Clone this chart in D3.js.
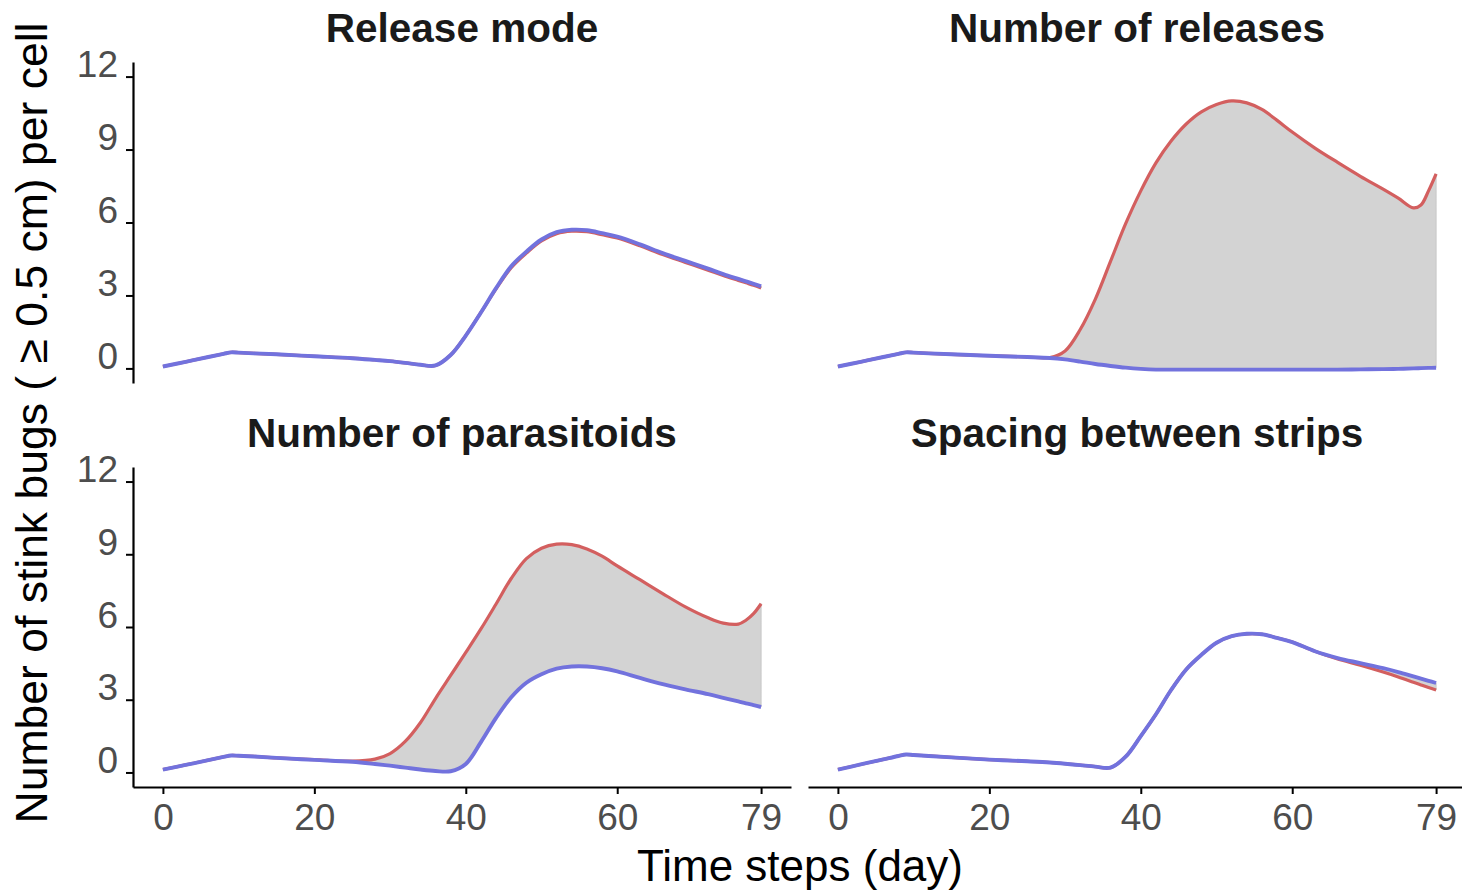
<!DOCTYPE html>
<html>
<head>
<meta charset="utf-8">
<script src="https://cdn.jsdelivr.net/npm/d3@7"></script>
<style>
  html, body { margin: 0; padding: 0; background: #ffffff; }
  svg { display: block; }
  text { font-family: "Liberation Sans", Arial, Helvetica, sans-serif; }
</style>
</head>
<body>
<svg id="chart" width="1462" height="890"></svg>
<script>
// ---------------- data ----------------
const days = [0,3,6,8,9,10,12,15,20,25,28,30,32,34,36,38,40,42,44,46,48,50,52,54,56,58,60,63,66,69,72,74,76,77,78,79];

const releaseModeRed  = [0.08,0.27,0.47,0.6,0.66,0.65,0.62,0.58,0.5,0.42,0.35,0.3,0.23,0.15,0.12,0.55,1.35,2.3,3.27,4.14,4.74,5.24,5.54,5.64,5.62,5.5,5.36,5.04,4.68,4.36,4.04,3.82,3.62,3.52,3.42,3.31];
const releaseModeBlue = [0.08,0.27,0.47,0.6,0.66,0.65,0.62,0.58,0.5,0.42,0.35,0.3,0.23,0.15,0.12,0.55,1.35,2.3,3.3,4.2,4.8,5.3,5.6,5.7,5.68,5.56,5.42,5.1,4.74,4.42,4.1,3.88,3.68,3.58,3.48,3.37];

const releasesRed  = [0.08,0.27,0.47,0.6,0.66,0.65,0.62,0.58,0.52,0.47,0.45,0.72,1.6,2.85,4.4,5.95,7.3,8.45,9.35,10.05,10.55,10.85,11.0,10.92,10.65,10.2,9.72,9.06,8.47,7.9,7.37,7.0,6.6,6.72,7.3,8.0];
const releasesBlue = [0.08,0.27,0.47,0.6,0.66,0.65,0.62,0.58,0.52,0.47,0.43,0.37,0.28,0.18,0.1,0.03,-0.02,-0.05,-0.05,-0.05,-0.05,-0.05,-0.05,-0.05,-0.05,-0.05,-0.05,-0.05,-0.05,-0.04,-0.03,-0.02,0.0,0.01,0.02,0.03];

const parasitoidsRed  = [0.12,0.31,0.51,0.64,0.7,0.69,0.66,0.6,0.53,0.47,0.55,0.78,1.28,2.05,3.05,4.0,4.95,5.92,6.95,8.0,8.82,9.25,9.42,9.4,9.22,8.92,8.52,7.95,7.38,6.83,6.38,6.16,6.12,6.28,6.55,6.96];
const parasitoidsBlue = [0.12,0.31,0.51,0.64,0.7,0.69,0.66,0.6,0.52,0.44,0.35,0.28,0.2,0.12,0.06,0.05,0.35,1.25,2.25,3.1,3.7,4.05,4.28,4.37,4.37,4.3,4.17,3.9,3.64,3.43,3.23,3.08,2.93,2.85,2.78,2.7];

const spacingRed  = [0.12,0.33,0.54,0.68,0.74,0.72,0.68,0.62,0.53,0.46,0.41,0.36,0.3,0.24,0.2,0.65,1.5,2.4,3.4,4.25,4.85,5.35,5.62,5.72,5.7,5.55,5.38,5.0,4.68,4.42,4.14,3.94,3.72,3.61,3.5,3.4];
const spacingBlue = [0.12,0.33,0.54,0.68,0.74,0.72,0.68,0.62,0.53,0.46,0.41,0.36,0.3,0.24,0.2,0.65,1.5,2.4,3.4,4.25,4.85,5.35,5.62,5.72,5.7,5.55,5.38,5.0,4.72,4.51,4.3,4.14,3.96,3.87,3.78,3.69];

const panelTitles = ["Release mode", "Number of releases", "Number of parasitoids", "Spacing between strips"];
const yTicks = [0, 3, 6, 9, 12];
const xTicks = [0, 20, 40, 60, 79];
const xTitle = "Time steps (day)";
const yTitle = "Number of stink bugs ( \u2265 0.5 cm) per cell";

// ---------------- layout ----------------
const svg = d3.select("#chart");
const RED = "#d35f5f", BLUE = "#7272dd", RIBBON = "#d3d3d3";
const cols = [[133, 791], [808, 1466]];
const rows = [[62, 383], [467, 787]];
const curve = d3.curveCatmullRom.alpha(0.5);

const panels = [
  { title: panelTitles[0], red: releaseModeRed,  blue: releaseModeBlue,  c: 0, r: 0, yAxis: true,  xAxis: false },
  { title: panelTitles[1], red: releasesRed,     blue: releasesBlue,     c: 1, r: 0, yAxis: false, xAxis: false },
  { title: panelTitles[2], red: parasitoidsRed,  blue: parasitoidsBlue,  c: 0, r: 1, yAxis: true,  xAxis: true },
  { title: panelTitles[3], red: spacingRed,      blue: spacingBlue,      c: 1, r: 1, yAxis: false, xAxis: true }
];

panels.forEach(p => {
  const [x0, x1] = cols[p.c];
  const [y0, y1] = rows[p.r];
  const x = d3.scaleLinear().domain([-3.95, 82.95]).range([x0, x1]);
  const y = d3.scaleLinear().domain([-0.6, 12.6]).range([y1, y0]);

  const rowsData = days.map((d, i) => ({ day: d, red: p.red[i], blue: p.blue[i] }));
  const g = svg.append("g");

  g.append("path")
    .datum(rowsData)
    .attr("fill", RIBBON)
    .attr("stroke", "#c8c8c8").attr("stroke-width", 1)
    .attr("d", d3.area().curve(curve)
      .x(d => x(d.day)).y0(d => y(d.blue)).y1(d => y(d.red)));

  g.append("path")
    .datum(rowsData)
    .attr("fill", "none").attr("stroke", RED).attr("stroke-width", 3.2)
    .attr("stroke-linejoin", "round")
    .attr("d", d3.line().curve(curve).x(d => x(d.day)).y(d => y(d.red)));

  g.append("path")
    .datum(rowsData)
    .attr("fill", "none").attr("stroke", BLUE).attr("stroke-width", 3.9)
    .attr("stroke-linejoin", "round")
    .attr("d", d3.line().curve(curve).x(d => x(d.day)).y(d => y(d.blue)));

  if (p.yAxis) {
    const ax = svg.append("g")
      .attr("transform", `translate(${x0},0)`)
      .call(d3.axisLeft(y).tickValues(yTicks).tickSize(7).tickSizeOuter(0).tickPadding(8));
    ax.select(".domain").attr("stroke", "#000").attr("stroke-width", 2.2);
    ax.selectAll(".tick line").attr("stroke", "#000").attr("stroke-width", 2);
    ax.selectAll(".tick text")
      .attr("fill", "#4d4d4d").attr("font-size", 37)
      .attr("font-family", "Liberation Sans, Arial, sans-serif")
      .attr("dy", "0");
  }
  if (p.xAxis) {
    const ax = svg.append("g")
      .attr("transform", `translate(0,${y1})`)
      .call(d3.axisBottom(x).tickValues(xTicks).tickSize(7).tickSizeOuter(0).tickPadding(10));
    ax.select(".domain").attr("stroke", "#000").attr("stroke-width", 2.2);
    ax.selectAll(".tick line").attr("stroke", "#000").attr("stroke-width", 2);
    ax.selectAll(".tick text")
      .attr("fill", "#4d4d4d").attr("font-size", 37)
      .attr("font-family", "Liberation Sans, Arial, sans-serif");
  }

  svg.append("text")
    .attr("x", (x0 + x1) / 2).attr("y", y0 - 20)
    .attr("text-anchor", "middle")
    .attr("font-size", 40.5).attr("font-weight", "bold").attr("fill", "#1a1a1a")
    .text(p.title);
});

svg.append("text")
  .attr("x", 800).attr("y", 881)
  .attr("text-anchor", "middle").attr("font-size", 44).attr("fill", "#000")
  .text(xTitle);

svg.append("text")
  .attr("transform", "translate(47,423) rotate(-90)")
  .attr("text-anchor", "middle").attr("font-size", 44.5).attr("fill", "#000")
  .text(yTitle);
</script>
</body>
</html>
